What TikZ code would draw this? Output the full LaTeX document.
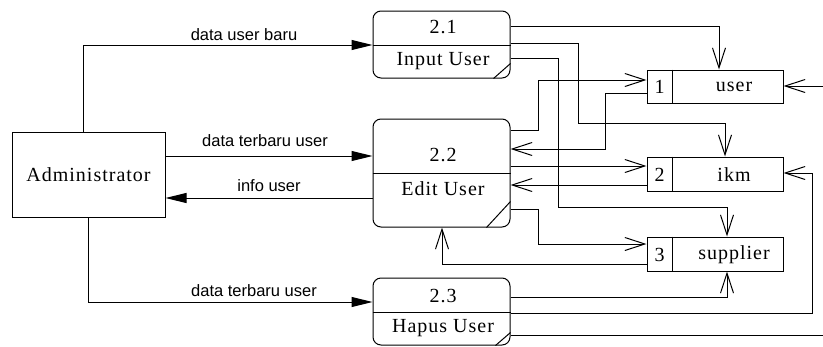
\documentclass[tikz,border=0pt]{standalone}
\usepackage{fontspec}
\setmainfont{Liberation Serif}[LetterSpace=5]
\newfontfamily\lblfont{Liberation Sans}
\usetikzlibrary{arrows.meta,calc}
\begin{document}
\begin{tikzpicture}[x=1pt,y=-1pt,line width=1pt,
  box/.style={draw,rectangle,inner sep=0pt},
  proc/.style={draw,rectangle,rounded corners=8pt,inner sep=0pt,minimum width=137pt},
  store/.style={draw,rectangle,inner sep=0pt,minimum width=136pt},
  ptext/.style={font=\fontsize{20}{22}\selectfont,inner sep=0pt},
  lbl/.style={font=\lblfont\fontsize{16.5}{18}\selectfont,inner sep=0pt,anchor=base},
  fill arrow/.style={-{Triangle[length=21pt,width=10pt]}},
  flow/.style={-{Straight Barb[length=20pt,width=13pt,line width=1pt]}},
  plain/.style={}]
\useasboundingbox (0,0) rectangle (823,346);
% entity
\node[box,minimum width=153pt,minimum height=85pt] (admin) at (88.5,174.5) {};
\node[ptext] (tadmin) at (88.5,175) {Administrator};
% processes
\node[proc,minimum height=67pt] (p21) at (441.5,44.5) {};
\node[proc,minimum height=108pt] (p22) at (441.5,173) {};
\node[proc,minimum height=67pt] (p23) at (441.5,311.5) {};
\draw (p21.west |- 0,45) -- (p21.east |- 0,45);
\draw (p22.west |- 0,173) -- (p22.east |- 0,173);
\draw (p23.west |- 0,312) -- (p23.east |- 0,312);
\draw ($(p21.south east)+(-17,0)$) -- ($(p21.south east)+(0,-15)$);
\draw ($(p22.south east)+(-24,0)$) -- ($(p22.south east)+(0,-26)$);
\draw ($(p23.south east)+(-15,0)$) -- ($(p23.south east)+(0,-13)$);
\node[ptext] (n21) at (443,27) {2.1};
\node[ptext] (l21) at (443,61.5) {Input User};
\node[ptext] (n22) at (443,155) {2.2};
\node[ptext] (l22) at (443,189) {Edit User};
\node[ptext] (n23) at (443,296) {2.3};
\node[ptext] (l23) at (443,328) {Hapus User};
% stores
\node[store,minimum height=33pt] (s1) at (715,86.5) {};
\node[store,minimum height=34pt] (s2) at (715,174) {};
\node[store,minimum height=34pt] (s3) at (715,254) {};
\foreach \s in {s1,s2,s3} \draw (\s.north -| 672,0) -- (\s.south -| 672,0);
\node[ptext] (k1) at (659.5,87) {1};
\node[ptext] (t1) at (734,87) {user};
\node[ptext] (k2) at (659.5,174.5) {2};
\node[ptext] (t2) at (734,174.5) {ikm};
\node[ptext] (k3) at (659.5,254.5) {3};
\node[ptext] (t3) at (734,254.5) {supplier};
% edge coordinates
\coordinate (eR) at (823,335);
\coordinate (eU) at (823,86);
% admin flows
\draw[fill arrow] (admin.north -| 83,0) |- (p21.west |- 0,45);
\draw[fill arrow] (admin.east |- 0,156) -- (p22.west |- 0,156);
\draw[fill arrow] (p22.west |- 0,198) -- (admin.east |- 0,198);
\draw[fill arrow] (admin.south -| 88,0) |- (p23.west |- 0,302);
\node[lbl] (la) at (244,40) {data user baru};
\node[lbl] (lb) at (265,146) {data terbaru user};
\node[lbl] (lc) at (269,191) {info user};
\node[lbl] (ld) at (254,296) {data terbaru user};
% store flows
\draw[flow] (p21.east |- 0,26) -| (s1.north -| 719,0);
\draw[flow] (p21.east |- 0,43) -| (578,123) -| (s2.north -| 725,0);
\draw[flow] (p21.east |- 0,58) -| (558,207) -| (s3.north -| 727,0);
\draw[flow] (p22.east |- 0,130) -| (538,80) -- (s1.west |- 0,80);
\draw[flow] (s1.west |- 0,93) -| (605,149) -- (p22.east |- 0,149);
\draw[flow] (p22.east |- 0,166) -- (s2.west |- 0,166);
\draw[flow] (s2.west |- 0,185) -- (p22.east |- 0,185);
\draw[flow] (p22.east |- 0,209) -| (538,244) -- (s3.west |- 0,244);
\draw[flow] (s3.west |- 0,264) -| (p22.south -| 442,0);
\draw[flow] (p23.east |- 0,297) -| (s3.south -| 727,0);
\draw[flow] (p23.east |- 0,313) -| (812,173) -- (s2.east |- 0,173);
\draw (p23.east |- 0,335) -- (eR);
\draw[flow] (eU) -- (s1.east |- 0,86);
\end{tikzpicture}
\end{document}
